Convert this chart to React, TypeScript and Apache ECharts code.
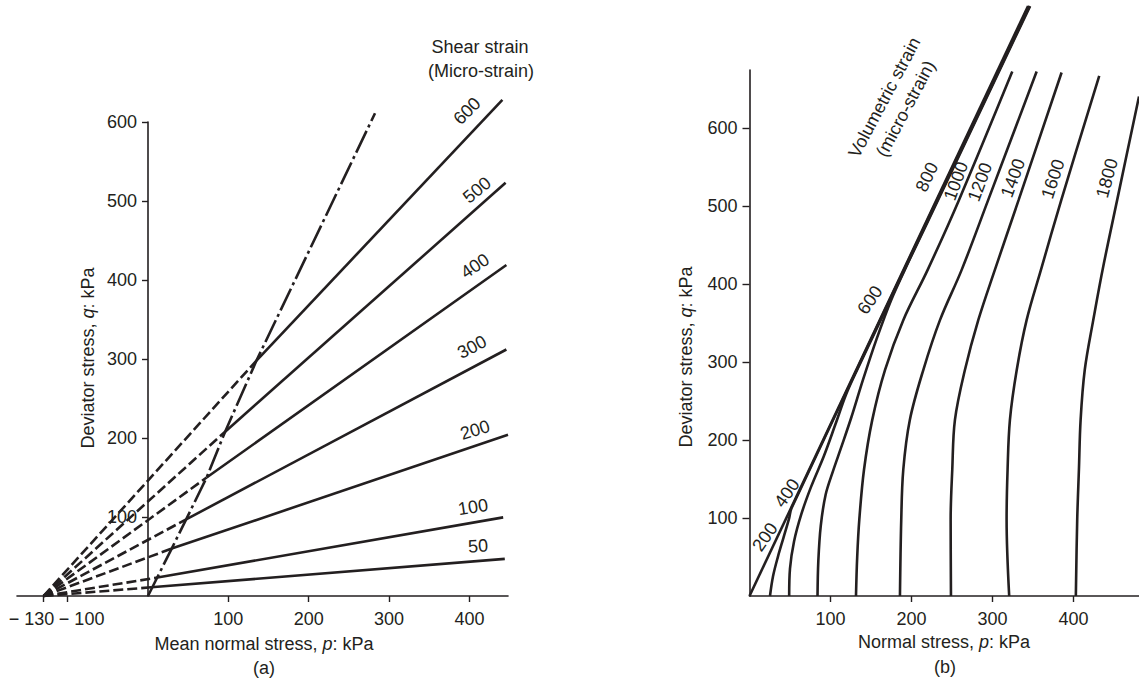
import React, { useEffect, useRef } from "react";
import * as echarts from "echarts";

const FONT = '"Liberation Sans", Arial, Helvetica, sans-serif';
const INK = "#231f20";

// ---------- (a) shear strain contours ----------
const shearLabels = ["50", "100", "200", "300", "400", "500", "600"];
const shearOrigin = [-130, 0];
const shearStart = [
  [4, 11],
  [10, 23],
  [29.5, 60],
  [47.5, 97],
  [73, 150],
  [96, 208],
  [135, 298],
];
const shearEnd = [
  [444, 47],
  [442, 99.5],
  [448, 204],
  [446, 312],
  [446, 419],
  [445, 523],
  [441, 628],
];
const stressPath = [
  [0, 0],
  [29.5, 60],
  [47.5, 97],
  [73, 150],
  [96, 208],
  [135, 298],
  [282.5, 611],
];
const leftXTicks = [-130, -100, 100, 200, 300, 400];
const leftYTicks = [100, 200, 300, 400, 500, 600];

// ---------- (b) volumetric strain contours ----------
const volLabels = ["200", "400", "600", "800", "1000", "1200", "1400", "1600", "1800"];
const vol200 = [[0, 0], [344, 757]];
const vol400 = [[25.3, 0], [29, 25], [35, 50], [42, 75], [49, 100], [52, 113], [345.2, 757]];
const vol600 = [[49, 0], [50, 35], [55, 70], [64, 105], [76, 140], [92, 180], [106, 220], [119, 258], [131, 286], [345.8, 757]];
const vol800 = [[84, 0], [85, 45], [88, 90], [94, 130], [103, 160], [113, 190], [126, 230], [140, 277], [157, 330], [175, 380], [196, 428], [220, 480], [346.5, 757]];
const vol1000 = [[131.5, 0], [133, 50], [135.6, 98], [141.4, 162], [151.6, 226], [167.3, 290], [189.9, 354], [220, 418.5], [258.6, 508], [324.5, 673]];
const vol1200 = [[185.8, 0], [187.4, 98], [189.9, 162], [198, 226], [214.6, 290], [235.2, 354], [262, 418.5], [294.7, 508], [354.6, 673]];
const vol1400 = [[248.8, 0], [248.4, 98], [250.4, 162], [253.7, 226], [266, 290], [282.5, 354], [303, 418.5], [332.3, 508], [385.4, 671.8]];
const vol1600 = [[320.7, 0], [317.5, 98], [318.7, 162], [321.6, 226], [330, 290], [342.2, 354], [359.9, 418.5], [385, 508], [431.9, 667.5]];
const vol1800 = [[403, 0], [404.7, 98], [406.8, 162], [408.9, 226], [414, 290], [424.5, 354], [436, 418.5], [454, 508], [481, 641]];
const volCurves = [vol200, vol400, vol600, vol800, vol1000, vol1200, vol1400, vol1600, vol1800];
const rightXTicks = [100, 200, 300, 400];
const rightYTicks = [100, 200, 300, 400, 500, 600];

// label placement (pixels, degrees) – layout only
const shearLabelPos = [
  [478, 546, 4],
  [473, 507, 9],
  [475, 430, 17],
  [472, 347, 28],
  [475, 266, 34],
  [477, 190, 40],
  [467, 111, 45],
];
const volLabelPos = [
  [765, 537, 55],
  [787, 493, 55],
  [870, 300, 56],
  [927, 177, 65],
  [956, 181, 70],
  [980, 182, 70],
  [1013, 178, 70],
  [1053, 179, 72],
  [1107, 178, 75],
];

const lineW = 2.6;
const LEFT_GRID_X = 17;
const LEFT_ZERO_X = 148;

function txt(text: string, x: number, y: number, rotDeg = 0, extra: any = {}) {
  return {
    type: "text",
    x,
    y,
    rotation: (rotDeg * Math.PI) / 180,
    silent: true,
    style: {
      text,
      fill: INK,
      fontSize: 18,
      fontFamily: FONT,
      align: "center",
      verticalAlign: "middle",
      ...extra,
    },
  };
}

const rich = {
  n: { fontSize: 18, fontFamily: FONT, fill: INK },
  i: { fontSize: 18, fontFamily: FONT, fill: INK, fontStyle: "italic" },
};

export default function App() {
  const ref = useRef<HTMLDivElement>(null);
  useEffect(() => {
    if (!ref.current) return;
    const chart = echarts.init(ref.current, null, { renderer: "svg" });

    const series: any[] = [];
    shearLabels.forEach((name, i) => {
      series.push({
        type: "line",
        name: name + " dashed",
        xAxisIndex: 0,
        yAxisIndex: 0,
        data: [shearOrigin, shearStart[i]],
        symbol: "none",
        clip: false,
        silent: true,
        lineStyle: { color: INK, width: lineW, type: [10, 4] },
      });
      series.push({
        type: "line",
        name,
        xAxisIndex: 0,
        yAxisIndex: 0,
        data: [shearStart[i], shearEnd[i]],
        symbol: "none",
        clip: false,
        silent: true,
        lineStyle: { color: INK, width: lineW },
      });
    });
    series.push({
      type: "line",
      name: "path",
      xAxisIndex: 0,
      yAxisIndex: 0,
      data: stressPath,
      symbol: "none",
      clip: false,
      silent: true,
      lineStyle: { color: INK, width: lineW, type: [24, 4, 3, 4] },
    });
    volLabels.forEach((name, i) => {
      series.push({
        type: "line",
        name: "v" + name,
        xAxisIndex: 1,
        yAxisIndex: 1,
        data: volCurves[i],
        symbol: "none",
        smooth: 0.35,
        clip: false,
        silent: true,
        lineStyle: { color: INK, width: lineW },
      });
    });

    const axisCommon = {
      type: "value",
      splitLine: { show: false },
      axisLine: { lineStyle: { color: INK, width: 1.6 } },
    };
    const fmt = (v: number) => {
      if (v === -130) return "{l|\u2212 130}";
      if (v === -100) return "{r|\u2212 100}";
      return String(v);
    };

    const elements: any[] = [];
    shearLabels.forEach((name, i) => {
      const p = shearLabelPos[i];
      elements.push(txt(name, p[0], p[1], p[2]));
    });
    volLabels.forEach((name, i) => {
      const p = volLabelPos[i];
      elements.push(txt(name, p[0], p[1], p[2]));
    });
    elements.push(txt("Shear strain", 480, 47));
    elements.push(txt("(Micro-strain)", 481, 71));
    elements.push(txt("Volumetric strain\n(micro-strain)", 895, 103, 62, { lineHeight: 24 }));
    elements.push(txt("{n|Deviator stress, }{i|q}{n|: kPa}", 88, 358, 90, { rich }));
    elements.push(txt("{n|Mean normal stress, }{i|p}{n|: kPa}", 264, 644, 0, { rich }));
    elements.push(txt("(a)", 264, 668));
    elements.push(txt("{n|Deviator stress, }{i|q}{n|: kPa}", 686, 357, 90, { rich }));
    elements.push(txt("{n|Normal stress, }{i|p}{n|: kPa}", 944, 642, 0, { rich }));
    elements.push(txt("(b)", 945, 667));

    chart.setOption({
      animation: false,
      backgroundColor: "#ffffff",
      textStyle: { fontFamily: FONT },
      grid: [
        { left: LEFT_GRID_X, top: 122, width: 491, height: 474, containLabel: false, outerBoundsMode: "none" },
        { left: 749.5, top: 70, width: 389.5, height: 526, containLabel: false, outerBoundsMode: "none" },
      ],
      xAxis: [
        {
          ...axisCommon,
          gridIndex: 0,
          min: -163,
          max: 448,
          axisTick: { customValues: leftXTicks, length: 6, lineStyle: { color: INK, width: 1.4 } },
          axisLabel: {
            customValues: leftXTicks,
            formatter: fmt,
            hideOverlap: false,
            showMinLabel: true,
            fontSize: 18,
            color: INK,
            margin: 14,
            fontFamily: FONT,
            rich: {
              l: { fontSize: 18, fontFamily: FONT, color: INK, padding: [0, 24, 0, 0] },
              r: { fontSize: 18, fontFamily: FONT, color: INK, padding: [0, 0, 0, 28] },
            },
          },
        },
        {
          ...axisCommon,
          gridIndex: 1,
          min: 0,
          max: 481,
          axisTick: { customValues: rightXTicks, length: 6, lineStyle: { color: INK, width: 1.4 } },
          axisLabel: { customValues: rightXTicks, fontSize: 18, color: INK, margin: 14, fontFamily: FONT },
        },
      ],
      yAxis: [
        {
          ...axisCommon,
          gridIndex: 0,
          min: 0,
          max: 600,
          position: "left",
          offset: LEFT_GRID_X - LEFT_ZERO_X,
          axisLine: { onZero: false, lineStyle: { color: INK, width: 1.6 } },
          axisTick: { customValues: leftYTicks, length: 6, lineStyle: { color: INK, width: 1.4 } },
          axisLabel: { customValues: leftYTicks, fontSize: 18, color: INK, margin: 11, fontFamily: FONT },
        },
        {
          ...axisCommon,
          gridIndex: 1,
          min: 0,
          max: 675,
          axisTick: { customValues: rightYTicks, length: 7, lineStyle: { color: INK, width: 1.4 } },
          axisLabel: { customValues: rightYTicks, fontSize: 18, color: INK, margin: 12, fontFamily: FONT },
        },
      ],
      series,
      graphic: { elements },
    });
    return () => chart.dispose();
  }, []);
  return (
    <div
      ref={ref}
      style={{ position: "fixed", left: 0, top: 0, width: 1139, height: 681, background: "#fff" }}
    />
  );
}
